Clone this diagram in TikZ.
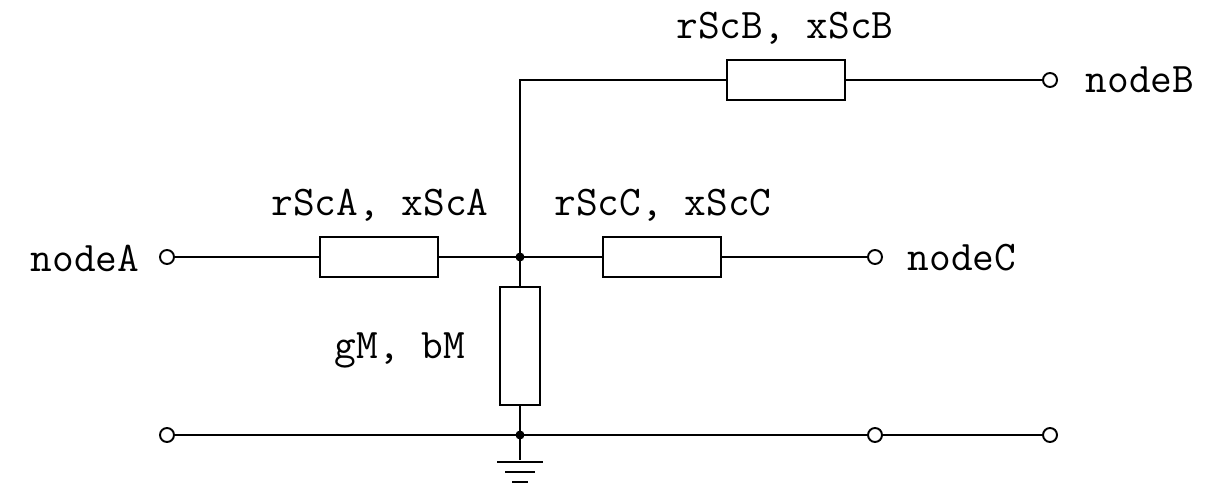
\documentclass[tikz,border=0pt]{standalone}
\begin{document}
\begin{tikzpicture}[x=0.02cm,y=-0.02cm,line width=1.1pt,
  res/.style={draw,fill=white,minimum width=118*0.02cm,minimum height=40*0.02cm,inner sep=0pt},
  vres/.style={draw,fill=white,minimum width=40*0.02cm,minimum height=118*0.02cm,inner sep=0pt},
  term/.style={circle,draw,fill=white,minimum size=14*0.02cm,inner sep=0pt},
  dot/.style={circle,fill,minimum size=9*0.02cm,inner sep=0pt},
  lbl/.style={font=\ttfamily\fontsize{24}{28}\selectfont,inner sep=0pt}]
\useasboundingbox (0,0) rectangle (1219,489);
\coordinate (J) at (520,257);
\coordinate (G) at (520,435);
\coordinate (K) at (520,80);
\coordinate (GE) at (520,460);
\node[term] (tA) at (167,257) {};
\node[term] (tC) at (875,257) {};
\node[term] (tB) at (1050,80) {};
\node[term] (bA) at (167,435) {};
\node[term] (bC) at (875,435) {};
\node[term] (bB) at (1050,435) {};
\node[res] (rA) at (379,257) {};
\node[res] (rC) at (662,257) {};
\node[res] (rB) at (786,80) {};
\node[vres] (rM) at (520,346) {};
\draw (tA) -- (rA) -- (J) -- (rC) -- (tC);
\draw (J) -- (K) -- (rB) -- (tB);
\draw (J) -- (rM) -- (G);
\draw (bA) -- (G) -- (bC) -- (bB);
\draw (G) -- (GE);
\draw (497,462) -- (543,462) (505,472) -- (535,472) (512,482) -- (528,482);
\node[dot] at (J) {};
\node[dot] at (G) {};
\node[lbl] (lA) at (85,258) {nodeA};
\node[lbl] (lC) at (962,258) {nodeC};
\node[lbl] (lB) at (1140,80) {nodeB};
\node[lbl] (la) at (380,205) {rScA, xScA};
\node[lbl] (lc) at (663,205) {rScC, xScC};
\node[lbl] (lb) at (785,28) {rScB, xScB};
\node[lbl] (lm) at (400,350) {gM, bM};
\end{tikzpicture}
\end{document}
